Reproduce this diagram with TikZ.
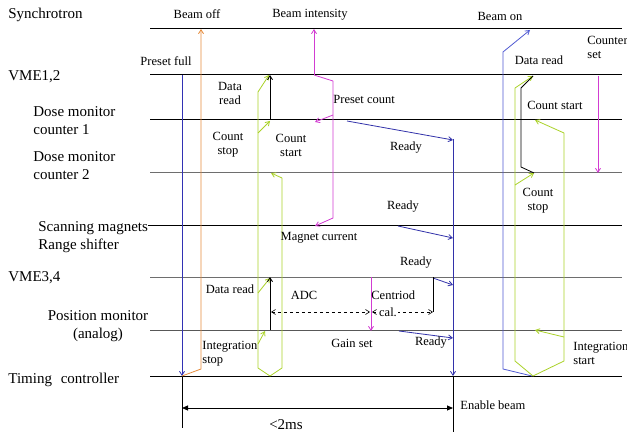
\documentclass[tikz,border=0pt]{standalone}
\usepackage{fontspec}
\setmainfont{Liberation Serif}
\usetikzlibrary{arrows.meta}
\definecolor{orng}{RGB}{230,140,60}
\definecolor{bluA}{RGB}{50,50,180}
\definecolor{bluR}{RGB}{50,50,170}
\definecolor{bluB}{RGB}{80,90,210}
\definecolor{mag}{RGB}{210,60,210}
\definecolor{grn}{RGB}{170,210,40}
\definecolor{gline}{RGB}{110,110,110}
\begin{document}
\begin{tikzpicture}[x=1pt,y=-1pt,line width=0.8pt,
  lbl/.style={font=\fontsize{15}{18}\selectfont, anchor=west, inner sep=0, align=left},
  txt/.style={font=\fontsize{12.5}{14}\selectfont, inner sep=0, align=center},
  ar/.style={-{Straight Barb[length=4pt,width=5pt]}},
  dar/.style={dashed,line width=0.6pt,{Straight Barb[length=4pt,width=5pt]}-{Straight Barb[length=4pt,width=5pt]}},
  tri/.style={{Triangle[length=6pt,width=5pt]}-{Triangle[length=6pt,width=5pt]}},
  hl/.style={line width=1pt}]
\useasboundingbox (0,0) rectangle (627,433);
\fill[white] (0,0) rectangle (627,433);

% horizontal lines
\coordinate (s0) at (150,29);  \coordinate (s1) at (622,29);
\coordinate (v0) at (150,75);  \coordinate (v1) at (622,75);
\coordinate (d0) at (150,120); \coordinate (d1) at (622,120);
\coordinate (e0) at (150,173); \coordinate (e1) at (622,173);
\coordinate (m0) at (148,225); \coordinate (m1) at (622,225);
\coordinate (w0) at (150,277); \coordinate (w1) at (622,277);
\coordinate (p0) at (150,330); \coordinate (p1) at (622,330);
\coordinate (t0) at (150,376); \coordinate (t1) at (622,376);
\draw[hl] (s0) -- (s1);
\draw[hl] (v0) -- (v1);
\draw[hl] (d0) -- (d1);
\draw[hl,gline] (e0) -- (e1);
\draw[hl] (m0) -- (m1);
\draw[hl,gline] (w0) -- (w1);
\draw[hl,gline!80!black] (p0) -- (p1);
\draw[hl] (t0) -- (t1);

% left labels
\node[lbl] (Lsyn) at (8,15) {Synchrotron};
\node[lbl] (Lvme12) at (8,77) {VME1,2};
\node[lbl] (Ldose1) at (33,121) {Dose monitor\\counter 1};
\node[lbl] (Ldose2) at (33,166) {Dose monitor\\counter 2};
\node[lbl] (Lscan) at (38,237) {Scanning magnets\\Range shifter};
\node[lbl] (Lvme34) at (8,278) {VME3,4};
\node[lbl,anchor=center,align=center] (Lpos) at (98,326) {Position monitor\\(analog)};
\node[lbl] (Ltim) at (8,380) {Timing\hspace{5pt} controller};

% preset full / beam off
\draw[bluA,ar] (182,75) -- (182,376);
\draw (182,376) -- (182,428);
\draw[orng,ar] (182,376) -- (201,369) -- (201,29);
\draw[tri] (182,408) -- (453,408);
\draw (453,376) -- (453,432);

% magenta
\draw[mag] (333,81) -- (314,75);
\draw[mag,ar] (314,75) -- (314,29);
\draw[mag,ar] (333,81) -- (333,218) -- (315,226);
\draw[mag,ar] (333,115) -- (315,122);
\draw[mag,ar] (371,277) -- (371,331);
\draw[mag,ar] (598,76) -- (598,173);

% ready (blue)
\draw[bluR,ar] (347,121) -- (453,140);
\draw[bluR,ar] (398,226) -- (453,238);
\draw[bluR,ar] (433,278) -- (453,285);
\draw[bluR,ar] (399,331) -- (453,338);
\draw[bluR,ar] (453,139) -- (453,376);
\draw (433,277) -- (433,312);

% beam on
\draw[bluB,ar] (532,376) -- (503,369) -- (503,52) -- (530,30);

% left green
\draw[grn] (258,92) -- (258,368) -- (270,376) -- (282,368) -- (282,178);
\draw[grn,ar] (258,92) -- (269,75);
\draw[grn,ar] (258,133) -- (270,121);
\draw[grn,ar] (282,178) -- (271,173);
\draw[grn,ar] (258,293) -- (270,278);
\draw[grn,ar] (258,344) -- (265,331);
\draw[ar] (270,120) -- (270,75);
\draw[ar] (270,330) -- (270,277);

% right green
\draw[grn] (515,88) -- (515,361) -- (533,376) -- (564,361) -- (564,133);
\draw[grn,ar] (515,88) -- (533,76);
\draw[grn,ar] (515,185) -- (534,173);
\draw[grn,ar] (564,133) -- (535,120);
\draw[grn,ar] (564,337) -- (535,330);
\draw (534,173) -- (521,167) -- (521,88) -- (533,76);

% dashed
\draw[dar] (271,312) -- (370,312);
\draw[dar] (372,312) -- (433,312);

% labels
\node[txt] (tboff) at (197,14) {Beam off};
\node[txt] (tbint) at (310,15) {Beam intensity};
\node[txt] (tbon) at (500,16) {Beam on};
\node[txt,anchor=west,align=left] (tcset) at (587,47) {Counter\\set};
\node[txt] (tpf) at (166,61) {Preset full};
\node[txt] (tdr1) at (230,93) {Data\\read};
\node[txt,anchor=west] (tpc) at (333,99) {Preset count};
\node[txt] (tcs1) at (228,145) {Count\\stop};
\node[txt] (tcst1) at (291,145) {Count\\start};
\node[txt] (trd1) at (406,148) {Ready};
\node[txt] (trd2) at (403,207) {Ready};
\node[txt] (tmc) at (319,238) {Magnet current};
\node[txt] (trd3) at (416,263) {Ready};
\node[txt] (tdr2) at (230,289) {Data read};
\node[txt] (tadc) at (304,295) {ADC};
\node[txt,anchor=west] (tcen) at (371,295) {Centriod};
\node[txt,fill=white,inner xsep=1pt] (tcal) at (388,312) {cal.};
\node[txt] (tgs) at (352,343) {Gain set};
\node[txt] (trd4) at (431,343) {Ready};
\node[txt,anchor=west,align=left] (tis) at (202,354) {Integration\\stop};
\node[txt,anchor=west,align=left] (tist) at (573,353) {Integration\\start};
\node[txt] (tdr3) at (539,60) {Data read};
\node[txt] (tcst2) at (555,105) {Count start};
\node[txt] (tcs2) at (538,201) {Count\\stop};
\node[txt,anchor=west] (teb) at (460,405) {Enable beam};
\node[font=\fontsize{15}{17}\selectfont,inner sep=0] (t2ms) at (286,425) {<2ms};
\end{tikzpicture}
\end{document}
